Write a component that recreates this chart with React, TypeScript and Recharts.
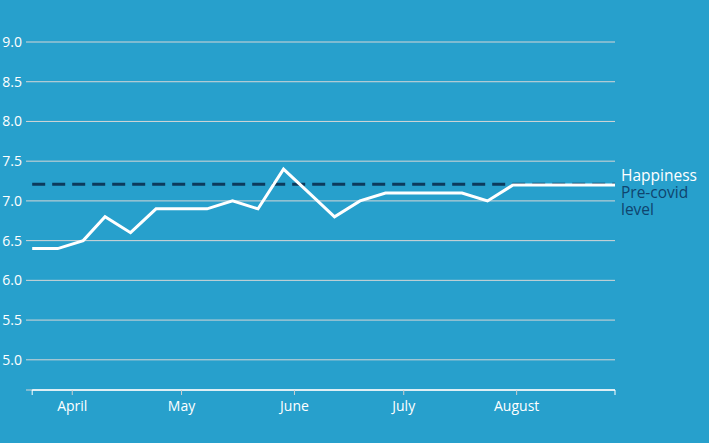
import React from "react";
import { LineChart, Line, XAxis, YAxis, CartesianGrid, ReferenceLine, LabelList } from "recharts";

// day offsets relative to April 1
const days = [-11, -4, 3, 9, 16, 23, 30, 37, 44, 51, 58, 65, 72, 79, 86, 93, 100, 107, 114, 121, 128, 135, 142, 149];
const happiness = [6.4, 6.4, 6.5, 6.8, 6.6, 6.9, 6.9, 6.9, 7.0, 6.9, 7.4, 7.1, 6.8, 7.0, 7.1, 7.1, 7.1, 7.1, 7.0, 7.2, 7.2, 7.2, 7.2, 7.2];
const preCovidLevel = 7.21;
const xTicks = [-11, 0, 30, 61, 91, 122, 149];
const xTickLabels = ["", "April", "May", "June", "July", "August", ""];
const yTicks = [5.0, 5.5, 6.0, 6.5, 7.0, 7.5, 8.0, 8.5, 9.0];

const data = days.map((d, i) => ({ d, v: happiness[i] }));

const FONT = "'Open Sans', sans-serif";
const BG = "#27a0cc";

const XTick = (props: any) => {
  const { x, y, payload } = props;
  const idx = xTicks.indexOf(payload.value);
  const label = xTickLabels[idx] ?? "";
  const isEnd = label === "";
  return (
    <g>
      <line x1={x} x2={x} y1={y} y2={y + 5} stroke={isEnd ? "#ffffff" : "#cfcfcf"} strokeWidth={1} />
      {label && (
        <text x={x} y={y + 21} textAnchor="middle" fill="#ffffff" fontSize={14} fontFamily={FONT}>
          {label}
        </text>
      )}
    </g>
  );
};

const EndLabels = (props: any) => {
  const { x, y, index } = props;
  if (index !== data.length - 1) return null;
  return (
    <g fontFamily={FONT} fontSize={15.5}>
      <text x={x + 6} y={y - 4} fill="#ffffff">Happiness</text>
      <text x={x + 6} y={y + 13} fill="#0f446e">Pre-covid</text>
      <text x={x + 6} y={y + 30} fill="#0f446e">level</text>
    </g>
  );
};

export default function App() {
  return (
    <div style={{ position: "fixed", left: 0, top: 0, width: 709, height: 443, background: BG }}>
      <LineChart width={709} height={443} data={data} margin={{ top: 42, right: 94, bottom: 23, left: 0 }}>
        <CartesianGrid vertical={false} stroke="#d6d6d6" strokeWidth={1} />
        <XAxis
          dataKey="d"
          type="number"
          domain={[-12.7, 149]}
          ticks={xTicks}
          interval={0}
          allowDataOverflow
          axisLine={false}
          tickLine={false}
          tickSize={0}
          tickMargin={0}
          height={30}
          tick={<XTick />}
        />
        <YAxis
          type="number"
          domain={[4.62, 9]}
          ticks={yTicks}
          allowDataOverflow
          width={26}
          axisLine={false}
          tickLine={false}
          tickSize={0}
          tickMargin={4}
          tickFormatter={(v: number) => v.toFixed(1)}
          tick={{ fill: "#ffffff", fontSize: 14, fontFamily: FONT }}
        />
        <ReferenceLine
          segment={[{ x: -11, y: 4.62 }, { x: 149, y: 4.62 }]}
          stroke="#ffffff"
          strokeWidth={1.5}
          ifOverflow="visible"
        />
        <ReferenceLine
          segment={[{ x: -11, y: preCovidLevel }, { x: 149, y: preCovidLevel }]}
          stroke="#0c3a5c"
          strokeWidth={3}
          strokeDasharray="13 7"
          ifOverflow="visible"
        />
        <Line
          dataKey="v"
          type="linear"
          stroke="#ffffff"
          strokeWidth={3}
          dot={false}
          isAnimationActive={false}
        >
          <LabelList dataKey="v" content={<EndLabels />} />
        </Line>
      </LineChart>
    </div>
  );
}
